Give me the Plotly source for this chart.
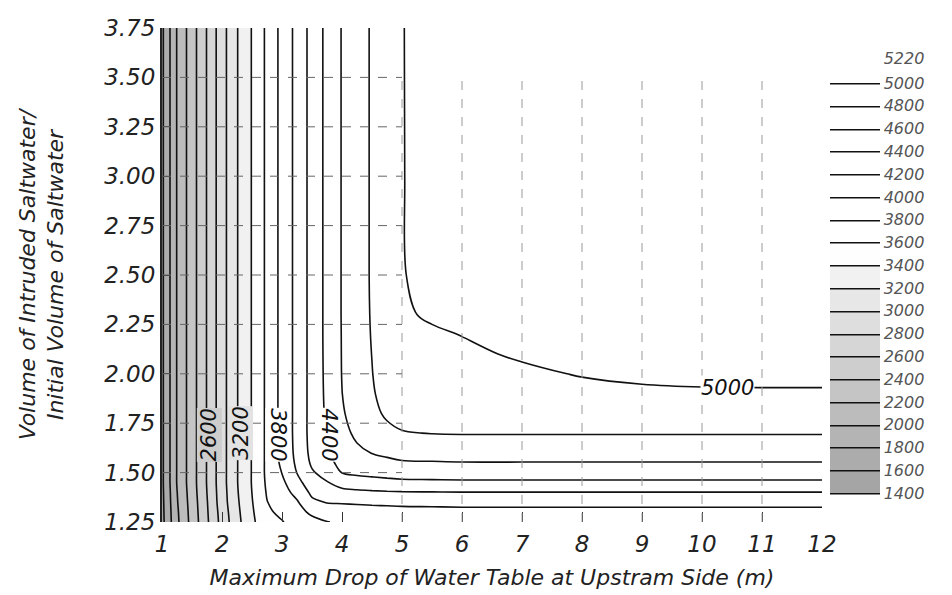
import plotly.graph_objects as go

# ---- data ----
X_DROP = [1, 1.25, 1.5, 1.75, 2, 2.25, 2.5, 2.75, 3, 3.25, 3.5, 3.75, 4, 4.25,
          4.5, 4.75, 5, 5.5, 6, 7, 8, 9, 10, 12]
Y_RATIO = [1.25, 1.30, 1.35, 1.40, 1.45, 1.50, 1.55, 1.60, 1.70, 1.80, 1.90,
           2.00, 2.10, 2.20, 2.30, 2.50, 3.00, 3.75]

Z_VALUES = [
    [1540, 1960, 2270, 2570, 2870, 3140, 3360, 3540, 3590, 3670, 3740, 3795, 3820, 3840, 3850, 3855, 3860, 3865, 3870, 3870, 3870, 3870, 3870, 3870],
    [1545, 1970, 2280, 2580, 2885, 3155, 3375, 3570, 3640, 3730, 3840, 3880, 3890, 3900, 3910, 3920, 3930, 3935, 3940, 3940, 3940, 3940, 3940, 3940],
    [1550, 1985, 2290, 2590, 2905, 3170, 3390, 3595, 3680, 3780, 3960, 4010, 4020, 4030, 4040, 4045, 4050, 4055, 4060, 4060, 4060, 4060, 4060, 4060],
    [1555, 1995, 2302, 2602, 2912, 3182, 3402, 3615, 3720, 3860, 4040, 4120, 4150, 4165, 4175, 4182, 4188, 4192, 4195, 4195, 4195, 4195, 4195, 4195],
    [1560, 2010, 2310, 2610, 2920, 3190, 3410, 3630, 3760, 3940, 4110, 4190, 4270, 4300, 4320, 4345, 4360, 4365, 4370, 4370, 4370, 4370, 4370, 4370],
    [1560, 2010, 2310, 2610, 2920, 3190, 3410, 3640, 3805, 4005, 4180, 4270, 4405, 4440, 4460, 4470, 4480, 4485, 4490, 4490, 4490, 4490, 4490, 4490],
    [1560, 2010, 2310, 2610, 2920, 3190, 3410, 3640, 3840, 4035, 4230, 4350, 4450, 4510, 4545, 4565, 4585, 4590, 4595, 4595, 4595, 4595, 4595, 4595],
    [1560, 2010, 2310, 2610, 2920, 3190, 3410, 3640, 3855, 4050, 4255, 4380, 4490, 4560, 4605, 4630, 4650, 4660, 4670, 4670, 4670, 4670, 4670, 4670],
    [1560, 2010, 2310, 2610, 2920, 3190, 3410, 3640, 3860, 4060, 4270, 4410, 4540, 4640, 4700, 4750, 4790, 4805, 4810, 4810, 4810, 4810, 4810, 4810],
    [1560, 2010, 2310, 2610, 2920, 3190, 3410, 3640, 3860, 4060, 4270, 4430, 4580, 4680, 4750, 4830, 4860, 4880, 4890, 4890, 4890, 4890, 4890, 4890],
    [1560, 2010, 2310, 2610, 2920, 3190, 3410, 3640, 3860, 4060, 4270, 4440, 4598, 4695, 4780, 4870, 4910, 4930, 4945, 4960, 4975, 4982, 4985, 4985],
    [1560, 2010, 2310, 2610, 2920, 3190, 3410, 3640, 3860, 4060, 4270, 4445, 4605, 4705, 4795, 4890, 4940, 4955, 4970, 4985, 5005, 5020, 5030, 5035],
    [1560, 2010, 2310, 2610, 2920, 3190, 3410, 3640, 3860, 4060, 4270, 4448, 4607, 4712, 4803, 4900, 4960, 4975, 4985, 5010, 5040, 5055, 5060, 5065],
    [1560, 2010, 2310, 2610, 2920, 3190, 3410, 3640, 3860, 4060, 4270, 4450, 4608, 4714, 4810, 4905, 4975, 4990, 5002, 5040, 5070, 5080, 5085, 5090],
    [1560, 2010, 2310, 2610, 2920, 3190, 3410, 3640, 3860, 4060, 4270, 4450, 4610, 4715, 4815, 4910, 4990, 5010, 5030, 5065, 5090, 5100, 5105, 5110],
    [1560, 2010, 2310, 2610, 2920, 3190, 3410, 3640, 3860, 4060, 4270, 4450, 4610, 4715, 4820, 4915, 4995, 5030, 5060, 5090, 5115, 5125, 5130, 5135],
    [1560, 2010, 2310, 2610, 2920, 3190, 3410, 3640, 3860, 4060, 4270, 4450, 4610, 4715, 4820, 4915, 4995, 5050, 5085, 5120, 5150, 5165, 5170, 5175],
    [1560, 2010, 2310, 2610, 2920, 3190, 3410, 3640, 3860, 4060, 4270, 4450, 4610, 4715, 4820, 4915, 4995, 5060, 5100, 5140, 5170, 5190, 5200, 5210],
]

LEVEL_START, LEVEL_END, LEVEL_STEP = 1400, 5000, 200
Z_MIN, Z_MAX = 1400, 5220
CBAR_TICKS = [1400, 1600, 1800, 2000, 2200, 2400, 2600, 2800, 3000, 3200,
              3400, 3600, 3800, 4000, 4200, 4400, 4600, 4800, 5000, 5220]

X_TICKS = [1, 2, 3, 4, 5, 6, 7, 8, 9, 10, 11, 12]
Y_TICKS = [1.25, 1.50, 1.75, 2.00, 2.25, 2.50, 2.75, 3.00, 3.25, 3.50, 3.75]

LABEL_TEXT = ["2600", "3200", "3800", "4400", "5000"]
LABEL_X = [1.79, 2.31, 2.93, 3.78, 10.43]
LABEL_Y = [1.69, 1.70, 1.69, 1.69, 1.93]
LABEL_ANGLE = [-90, -90, 90, 90, 0]
LABEL_BG = ["#cdcdcd", "#e2e2e2", "#ffffff", "#ffffff", "#ffffff"]

FONT = "DejaVu Sans"

span = Z_MAX - Z_MIN
colorscale = [
    [0.0, "#a2a2a2"],
    [(1800 - Z_MIN) / span, "#afafaf"],
    [(2200 - Z_MIN) / span, "#bebebe"],
    [(2600 - Z_MIN) / span, "#cfcfcf"],
    [(3000 - Z_MIN) / span, "#dedede"],
    [(3400 - Z_MIN) / span, "#f0f0f0"],
    [(3650 - Z_MIN) / span, "#ffffff"],
    [1.0, "#ffffff"],
]

fig = go.Figure()
fig.add_trace(go.Contour(
    x=X_DROP, y=Y_RATIO, z=Z_VALUES,
    zmin=Z_MIN, zmax=Z_MAX, colorscale=colorscale,
    contours=dict(start=LEVEL_START, end=LEVEL_END, size=LEVEL_STEP,
                  coloring="fill", showlines=True),
    line=dict(color="#111111", width=1.6, smoothing=1),
    colorbar=dict(
        tickvals=CBAR_TICKS, ticktext=[str(v) for v in CBAR_TICKS],
        tickfont=dict(family=FONT, size=16, color="#555555", style="italic"),
        thickness=50, len=0.88, lenmode="fraction", y=0.0587, yanchor="bottom",
        x=1.012, xanchor="left", xpad=0, ypad=0, outlinewidth=0, ticks="",
        ticklabelposition="outside",
    ),
    hoverinfo="skip",
))

# grid lines drawn above the filled contours
for xv in X_TICKS[4:-1]:
    fig.add_shape(type="line", xref="x", yref="y", x0=xv, x1=xv,
                  y0=Y_TICKS[0], y1=Y_TICKS[-2], layer="above",
                  line=dict(color="#9a9a9a", width=1, dash="dash"))
for yv in Y_TICKS[1:-1]:
    fig.add_shape(type="line", xref="x", yref="y", x0=X_TICKS[0], x1=X_TICKS[4],
                  y0=yv, y1=yv, layer="above",
                  line=dict(color="#666666", width=1, dash="dash"))

for t, lx, ly, ang, bg in zip(LABEL_TEXT, LABEL_X, LABEL_Y, LABEL_ANGLE, LABEL_BG):
    fig.add_annotation(x=lx, y=ly, xref="x", yref="y", text=t, showarrow=False,
                       textangle=ang, bgcolor=bg, borderpad=0,
                       font=dict(family=FONT, size=21, color="#111111", style="italic"))

fig.update_layout(
    width=952, height=595,
    margin=dict(l=162, r=130, t=28, b=73, autoexpand=False),
    paper_bgcolor="white", plot_bgcolor="white",
    font=dict(family=FONT, size=22, color="#222222", style="italic"),
    showlegend=False,
)
fig.update_xaxes(
    range=[1, 12], tickvals=X_TICKS, ticktext=[str(v) for v in X_TICKS],
    ticks="inside", ticklen=10, tickcolor="#333", showgrid=False, zeroline=False,
    showline=False, ticklabelstandoff=6, automargin=False,
    tickfont=dict(family=FONT, size=23, color="#222", style="italic"),
    title=dict(text="Maximum Drop of Water Table at Upstram Side (m)",
               font=dict(family=FONT, size=22, color="#222", style="italic"),
               standoff=13),
)
fig.update_yaxes(
    range=[1.25, 3.75], tickvals=Y_TICKS, ticktext=[f"{v:.2f}" for v in Y_TICKS],
    ticks="inside", ticklen=8, tickcolor="#333", showgrid=False, zeroline=False,
    showline=True, linecolor="#222", linewidth=2, automargin=False,
    tickfont=dict(family=FONT, size=23, color="#222", style="italic"),
    title=dict(text="Volume of Intruded Saltwater/<br>Initial Volume of Saltwater",
               font=dict(family=FONT, size=22, color="#222", style="italic"),
               standoff=34),
)

fig.write_html("out.html")
